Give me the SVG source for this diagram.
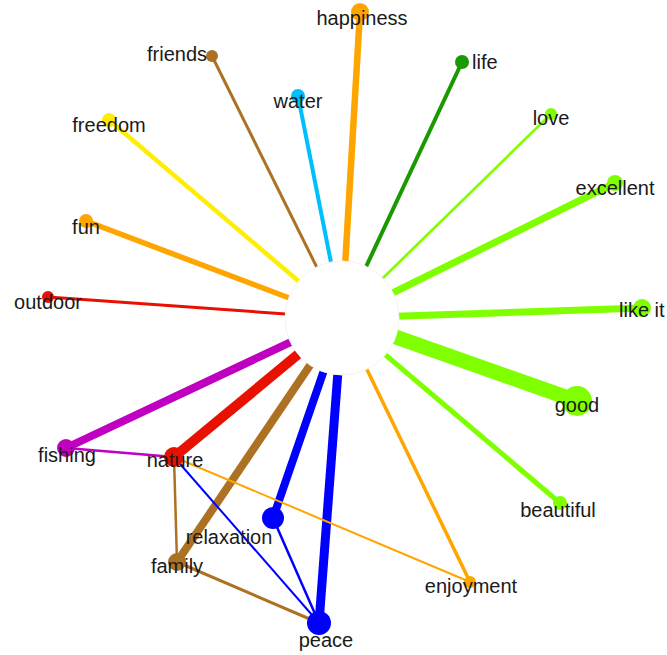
<svg xmlns="http://www.w3.org/2000/svg" width="667" height="655" viewBox="0 0 667 655">
<style>
.lbl{font-family:"Liberation Sans",Arial,sans-serif;font-size:20px;fill:#1a1a1a}
.s{fill:none;stroke-linecap:butt}
.or{stroke:#FFA500}.br{stroke:#AD7124}.sk{stroke:#00BFFF}.gr{stroke:#1A9900}.lg{stroke:#7FFF00}.ye{stroke:#FFEE00}.rd{stroke:#E81000}.mg{stroke:#C000C0}.bl{stroke:#0000FF}
.fo{fill:#FFA500}.fb{fill:#AD7124}.fs{fill:#00BFFF}.fg{fill:#1A9900}.fl{fill:#7FFF00}.fy{fill:#FFEE00}.fr{fill:#E81000}.fm{fill:#C000C0}.fbl{fill:#0000FF}
</style>
<rect width="667" height="655" fill="#fff"/>
<g id="connectors">
<line class="s or" x1="342" y1="318" x2="360" y2="12" stroke-width="6.5"/>
<line class="s br" x1="342" y1="318" x2="212" y2="56" stroke-width="3"/>
<line class="s sk" x1="342" y1="318" x2="298" y2="96" stroke-width="4"/>
<line class="s gr" x1="342" y1="318" x2="462" y2="62" stroke-width="4"/>
<line class="s lg" x1="342" y1="318" x2="551" y2="114" stroke-width="2.7"/>
<line class="s lg" x1="342" y1="318" x2="615" y2="183" stroke-width="7"/>
<line class="s lg" x1="342" y1="318" x2="642" y2="308" stroke-width="7"/>
<line class="s lg" x1="342" y1="318" x2="577" y2="401" stroke-width="15"/>
<line class="s lg" x1="342" y1="318" x2="560" y2="503" stroke-width="5"/>
<line class="s or" x1="342" y1="318" x2="470" y2="582" stroke-width="3.5"/>
<line class="s bl" x1="342" y1="318" x2="319" y2="623" stroke-width="9"/>
<line class="s bl" x1="342" y1="318" x2="273" y2="518" stroke-width="8"/>
<line class="s br" x1="342" y1="318" x2="177" y2="562" stroke-width="8"/>
<line class="s rd" x1="342" y1="318" x2="174" y2="457" stroke-width="10"/>
<line class="s mg" x1="342" y1="318" x2="66" y2="448" stroke-width="8"/>
<line class="s rd" x1="342" y1="318" x2="48" y2="297" stroke-width="3"/>
<line class="s or" x1="342" y1="318" x2="86" y2="221" stroke-width="5.5"/>
<line class="s ye" x1="342" y1="318" x2="109" y2="120" stroke-width="4.5"/>
<circle cx="342" cy="318" r="57" fill="#fff" stroke="#f3f3f3" stroke-width="1"/>
<line class="s mg" x1="66" y1="448" x2="174" y2="457" stroke-width="2.5"/>
<line class="s br" x1="174" y1="457" x2="177" y2="562" stroke-width="2.5"/>
<line class="s bl" x1="174" y1="457" x2="319" y2="623" stroke-width="2"/>
<line class="s or" x1="174" y1="457" x2="470" y2="582" stroke-width="2"/>
<line class="s bl" x1="273" y1="518" x2="319" y2="623" stroke-width="2.5"/>
<line class="s br" x1="177" y1="562" x2="319" y2="623" stroke-width="3"/>
</g>
<g id="happiness"><circle class="fo" cx="360" cy="12" r="9"/><text class="lbl" x="362" y="25" text-anchor="middle">happiness</text></g>
<g id="friends"><circle class="fb" cx="212" cy="56" r="6"/><text class="lbl" x="207" y="61" text-anchor="end">friends</text></g>
<g id="water"><circle class="fs" cx="298" cy="96" r="7"/><text class="lbl" x="298" y="108" text-anchor="middle">water</text></g>
<g id="life"><circle class="fg" cx="462" cy="62" r="7"/><text class="lbl" x="472" y="69">life</text></g>
<g id="love"><circle class="fl" cx="551" cy="114" r="6"/><text class="lbl" x="551" y="125" text-anchor="middle">love</text></g>
<g id="excellent"><circle class="fl" cx="615" cy="183" r="8"/><text class="lbl" x="615" y="195" text-anchor="middle">excellent</text></g>
<g id="likeit"><circle class="fl" cx="642" cy="308" r="9"/><text class="lbl" x="619" y="317">like it</text></g>
<g id="good"><circle class="fl" cx="577" cy="401" r="15"/><text class="lbl" x="577" y="412" text-anchor="middle">good</text></g>
<g id="beautiful"><circle class="fl" cx="560" cy="503" r="7"/><text class="lbl" x="558" y="517" text-anchor="middle">beautiful</text></g>
<g id="enjoyment"><circle class="fo" cx="470" cy="582" r="6"/><text class="lbl" x="471" y="593" text-anchor="middle">enjoyment</text></g>
<g id="peace"><circle class="fbl" cx="319" cy="623" r="12"/><text class="lbl" x="326" y="647" text-anchor="middle">peace</text></g>
<g id="relaxation"><circle class="fbl" cx="273" cy="518" r="11"/><text class="lbl" x="229" y="544" text-anchor="middle">relaxation</text></g>
<g id="family"><circle class="fb" cx="177" cy="562" r="9"/><text class="lbl" x="177" y="573" text-anchor="middle">family</text></g>
<g id="nature"><circle class="fr" cx="174" cy="457" r="10"/><text class="lbl" x="175" y="467" text-anchor="middle">nature</text></g>
<g id="fishing"><circle class="fm" cx="66" cy="448" r="9"/><text class="lbl" x="67" y="462" text-anchor="middle">fishing</text></g>
<g id="outdoor"><circle class="fr" cx="48" cy="297" r="6"/><text class="lbl" x="48" y="309" text-anchor="middle">outdoor</text></g>
<g id="fun"><circle class="fo" cx="86" cy="221" r="7"/><text class="lbl" x="86" y="234" text-anchor="middle">fun</text></g>
<g id="freedom"><circle class="fy" cx="109" cy="120" r="7"/><text class="lbl" x="109" y="132" text-anchor="middle">freedom</text></g>
</svg>
